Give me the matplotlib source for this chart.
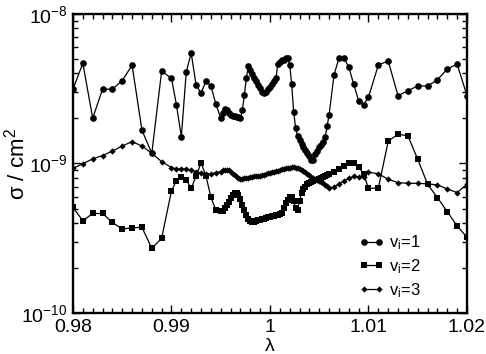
"""Cross section vs lambda for three initial vibrational states"""
import numpy
from matplotlib import pyplot as plt
from matplotlib.ticker import FixedLocator, LogLocator, NullFormatter

plt.rcParams["font.family"] = ["Liberation Sans", "DejaVu Sans"]
plt.rcParams["mathtext.fontset"] = "custom"
plt.rcParams["mathtext.rm"] = "Liberation Sans"
plt.rcParams["mathtext.it"] = "Liberation Sans"
plt.rcParams["mathtext.default"] = "regular"

# lambda grid: coarse on the wings, fine around resonance
LAMBDA_LEFT = numpy.concatenate([numpy.arange(0.980, 0.9905, 0.001),
                                 numpy.arange(0.9905, 0.9946, 0.0005)])
LAMBDA_MID = numpy.linspace(0.995, 1.006, 56)
LAMBDA_RIGHT = numpy.concatenate([numpy.arange(1.0065, 1.0101, 0.0005),
                                  numpy.arange(1.011, 1.0201, 0.001)])
LAMBDA = numpy.concatenate([LAMBDA_LEFT, LAMBDA_MID, LAMBDA_RIGHT])

# sigma in units of 1e-9 cm^2
SIGMA_V1 = [
    3.14, 4.68, 2.01, 3.14, 3.14, 3.59, 4.54, 1.67, 1.17, 4.15,
    3.71, 2.47, 1.51, 4.11, 5.47, 3.34, 2.95, 3.57, 3.30, 2.50,
    2.01, 2.18, 2.30, 2.27, 2.16, 2.12, 2.08, 2.07, 2.05, 2.04,
    2.00, 2.29, 2.87, 3.73, 4.49, 4.22, 3.94, 3.73, 3.54, 3.36,
    3.18, 3.03, 2.96, 3.03, 3.15, 3.27, 3.41, 3.57, 3.73, 4.64,
    4.77, 4.89, 4.96, 5.04, 5.08, 4.56, 3.41, 2.22, 1.73, 1.52,
    1.43, 1.36, 1.29, 1.23, 1.17, 1.12, 1.05, 1.06, 1.16, 1.21,
    1.28, 1.33, 1.40, 1.50, 1.78, 2.12,
    3.92, 5.05, 5.10, 4.40, 3.39, 2.63, 2.47, 2.78, 4.56, 4.85,
    2.84, 3.07, 3.30, 3.30, 3.63, 4.29, 4.62, 2.84,
]
SIGMA_V2 = [
    0.508, 0.414, 0.463, 0.463, 0.404, 0.364, 0.372, 0.374, 0.271, 0.316,
    0.658, 0.768, 0.817, 0.776, 0.683, 0.825, 1.011, 0.825, 0.594, 0.488,
    0.480, 0.484, 0.504, 0.527, 0.556, 0.587, 0.615, 0.630, 0.635, 0.615,
    0.578, 0.527, 0.488, 0.455, 0.428, 0.412, 0.406, 0.406, 0.412, 0.418,
    0.422, 0.425, 0.428, 0.431, 0.437, 0.442, 0.445, 0.448, 0.452, 0.455,
    0.461, 0.470, 0.504, 0.544, 0.574, 0.597, 0.601, 0.561, 0.504, 0.491,
    0.561, 0.635, 0.670, 0.697, 0.724, 0.741, 0.752, 0.761, 0.770, 0.778,
    0.788, 0.801, 0.813, 0.825, 0.834, 0.845,
    0.872, 0.913, 0.956, 1.000, 1.000, 0.949, 0.852, 0.683, 0.683, 1.41,
    1.57, 1.53, 1.067, 0.726, 0.591, 0.476, 0.382, 0.321,
]
SIGMA_V3 = [
    0.928, 0.996, 1.074, 1.13, 1.21, 1.31, 1.40, 1.31, 1.17, 1.028,
    0.940, 0.919, 0.919, 0.919, 0.905, 0.882, 0.861, 0.848, 0.848, 0.869,
    0.884, 0.898, 0.905, 0.905, 0.898, 0.878, 0.851, 0.832, 0.812, 0.800,
    0.788, 0.788, 0.794, 0.800, 0.803, 0.812, 0.816, 0.822, 0.825, 0.828,
    0.830, 0.834, 0.840, 0.849, 0.858, 0.867, 0.874, 0.880, 0.888, 0.897,
    0.905, 0.915, 0.922, 0.928, 0.933, 0.938, 0.941, 0.941, 0.938, 0.931,
    0.919, 0.905, 0.891, 0.875, 0.857, 0.832, 0.812, 0.800, 0.788, 0.778,
    0.767, 0.752, 0.737, 0.721, 0.702, 0.686,
    0.697, 0.730, 0.764, 0.794, 0.819, 0.816, 0.816, 0.874, 0.854, 0.784,
    0.745, 0.737, 0.737, 0.730, 0.719, 0.676, 0.639, 0.726,
]

SERIES = [
    (SIGMA_V1, "o", 4.8, "$v_i$=1"),
    (SIGMA_V2, "s", 4.0, "$v_i$=2"),
    (SIGMA_V3, "D", 3.2, "$v_i$=3"),
]
X_TICKS = [0.98, 0.99, 1.0, 1.01, 1.02]
X_TICK_LABELS = ["0.98", "0.99", "1", "1.01", "1.02"]
Y_TICKS = [1e-10, 1e-9, 1e-8]
Y_TICK_LABELS = ["$10^{-10}$", "$10^{-9}$", "$10^{-8}$"]

fig = plt.figure(figsize=(4.86, 3.54), dpi=100)
ax = fig.add_axes([0.1502, 0.1158, 0.8107, 0.8447])

for values, marker, size, label in SERIES:
    ax.plot(LAMBDA, numpy.array(values) * 1e-9, color="black", linewidth=0.9,
            marker=marker, markersize=size, markeredgewidth=0, label=label)

ax.set_yscale("log")
ax.set_xlim(0.98, 1.02)
ax.set_ylim(1e-10, 1e-8)

ax.xaxis.set_major_locator(FixedLocator(X_TICKS))
ax.set_xticklabels(X_TICK_LABELS)
ax.xaxis.set_minor_locator(FixedLocator(numpy.arange(0.98, 1.0201, 0.001)))
ax.yaxis.set_major_locator(FixedLocator(Y_TICKS))
ax.set_yticklabels(Y_TICK_LABELS)
ax.yaxis.set_minor_locator(LogLocator(base=10, subs=numpy.arange(2, 10)))
ax.yaxis.set_minor_formatter(NullFormatter())

ax.tick_params(which="both", direction="in", top=True, right=True,
               width=1.0, labelsize=14, pad=4)
ax.tick_params(which="major", length=6)
ax.tick_params(which="minor", length=3.5)
for spine in ax.spines.values():
    spine.set_linewidth(1.7)

ax.set_xlabel("λ", fontsize=14)
ax.xaxis.set_label_coords(0.5, -0.085)
ax.set_ylabel("σ / cm$^2$", fontsize=16)
ax.yaxis.set_label_coords(-0.11, 0.5)

ax.legend(loc="lower left", bbox_to_anchor=(0.725, 0.045), frameon=False,
          fontsize=12, handlelength=1.5, handletextpad=0.35, labelspacing=0.3,
          borderpad=0, borderaxespad=0, numpoints=2)

fig.savefig("out.png", dpi=100)
